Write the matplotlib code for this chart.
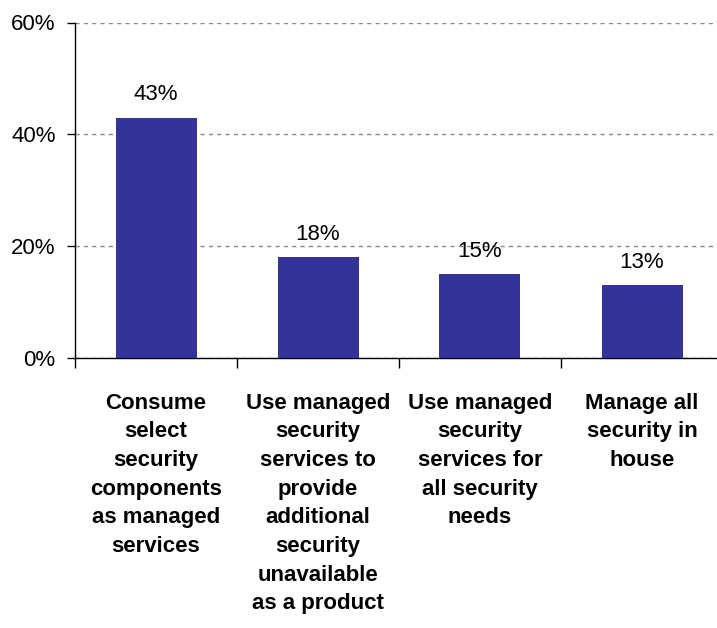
import matplotlib
matplotlib.use("Agg")
import matplotlib.pyplot as plt
from matplotlib.ticker import FixedLocator, PercentFormatter

categories = [
    "Consume\nselect\nsecurity\ncomponents\nas managed\nservices",
    "Use managed\nsecurity\nservices to\nprovide\nadditional\nsecurity\nunavailable\nas a product",
    "Use managed\nsecurity\nservices for\nall security\nneeds",
    "Manage all\nsecurity in\nhouse",
]
values = [43, 18, 15, 13]
yticks = [0, 20, 40, 60]

plt.rcParams["font.family"] = ["Liberation Sans", "DejaVu Sans"]

fig = plt.figure(figsize=(7.17, 6.28), dpi=100)
W, H = 717, 628
left, right, top, bottom = 75, 723, 22.5, 358
ax = fig.add_axes([left / W, 1 - bottom / H, (right - left) / W, (bottom - top) / H])

x = list(range(len(values)))
ax.bar(x, values, width=0.5, color="#333399", zorder=3)
for xi, v in zip(x, values):
    ax.annotate(f"{v}%", (xi, v), xytext=(0, 9), textcoords="offset points",
                ha="center", va="bottom", fontsize=16)

ax.set_xlim(-0.5, len(values) - 0.5)
ax.set_ylim(0, 60)
ax.set_yticks(yticks)
ax.yaxis.set_major_formatter(PercentFormatter(decimals=0))
ax.tick_params(axis="y", labelsize=16, length=6, width=1, direction="out", pad=8)

ax.set_xticks(x)
ax.set_xticklabels(categories, fontsize=16, fontweight="bold", linespacing=1.48,
                   va="top")
ax.tick_params(axis="x", which="major", length=0, pad=25)
ax.xaxis.set_minor_locator(FixedLocator([i - 0.5 for i in range(len(values) + 1)]))
ax.tick_params(axis="x", which="minor", length=7, width=1, direction="out")

ax.yaxis.grid(True, color="#888888", linestyle=(0, (3, 3)), linewidth=1)
ax.set_axisbelow(True)
for s in ("top", "right"):
    ax.spines[s].set_visible(False)
for s in ("left", "bottom"):
    ax.spines[s].set_linewidth(1)

fig.savefig("out.png", dpi=100)
